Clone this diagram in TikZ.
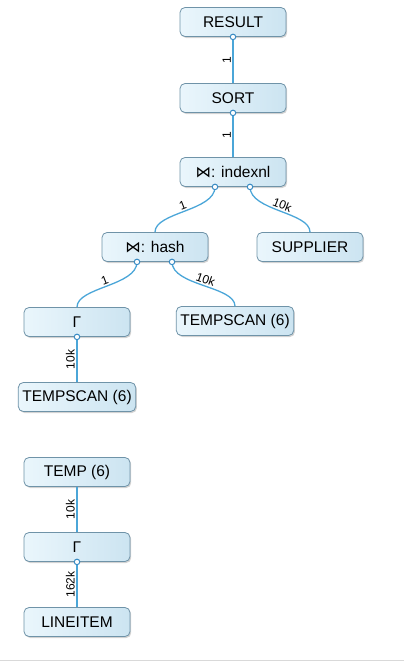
\documentclass[tikz,border=0pt]{standalone}
\usepackage{fontspec}
\setmainfont{Liberation Sans}
\newfontfamily\symfont{DejaVu Sans}
\usetikzlibrary{shadows,positioning}

\definecolor{opleft}{HTML}{EAF6FC}
\definecolor{opright}{HTML}{CCE4F1}
\definecolor{opborder}{HTML}{6F93A8}
\definecolor{linkblue}{HTML}{4BA6D8}
\definecolor{portblue}{HTML}{3A8CC4}

\begin{document}
\begin{tikzpicture}[x=1pt,y=1pt,
    op/.style={draw=opborder,line width=.8pt,rounded corners=5pt,left color=opleft,right color=opright,
        minimum width=106pt,minimum height=29pt,inner xsep=4pt,
        font=\fontsize{15.5}{17}\selectfont,
        drop shadow={shadow xshift=1.2pt,shadow yshift=-1.5pt,opacity=.35}},
    link/.style={draw=linkblue,line width=1.3pt},
    card/.style={font=\fontsize{12}{13}\selectfont,sloped,above,inner sep=1.5pt},
    port/.style={circle,draw=portblue,fill=white,line width=1pt,inner sep=0pt,minimum size=5.5pt}]

    \useasboundingbox (0,0) rectangle (404,-662);
    \draw[black!15,line width=1.5pt] (0,-660.5) -- (404,-660.5);

    % plan tree
    \node[op] (result) at (233,-22) {RESULT};
    \node[op] (sort) at (233,-98) {SORT};
    \node[op] (ixnl) at (233,-172) {{\symfont ⋈}: indexnl};
    \node[op] (hash) at (155,-247) {{\symfont ⋈}: hash};
    \node[op] (supp) at (310,-247) {SUPPLIER};
    \node[op] (grp1) at (77,-322) {Γ};
    \node[op] (tsr) at (235,-321) {TEMPSCAN (6)};
    \node[op] (tsl) at (77,-397) {TEMPSCAN (6)};

    % temp tree
    \node[op] (temp) at (77,-472) {TEMP (6)};
    \node[op] (grp2) at (77,-547) {Γ};
    \node[op] (line) at (77,-622) {LINEITEM};

    \coordinate (ixnl-w) at ([xshift=-18pt]ixnl.south);
    \coordinate (ixnl-e) at ([xshift=17pt]ixnl.south);
    \coordinate (hash-w) at ([xshift=-18pt]hash.south);
    \coordinate (hash-e) at ([xshift=17pt]hash.south);

    \draw[link] (sort.north) -- node[card]{1} (result.south);
    \draw[link] (ixnl.north) -- node[card]{1} (sort.south);
    \draw[link] (hash.north) .. controls +(0,20) and +(0,-24) .. node[card]{1} (ixnl-w);
    \draw[link] (supp.north) .. controls +(0,20) and +(0,-24) .. node[card]{10k} (ixnl-e);
    \draw[link] (grp1.north) .. controls +(0,20) and +(0,-24) .. node[card]{1} (hash-w);
    \draw[link] (tsr.north) .. controls +(0,20) and +(0,-24) .. node[card]{10k} (hash-e);
    \draw[link] (tsl.north) -- node[card]{10k} (grp1.south);
    \draw[link] (grp2.north) -- node[card]{10k} (temp.south);
    \draw[link] (line.north) -- node[card]{162k} (grp2.south);

    \foreach \p in {result.south,sort.south,ixnl-w,ixnl-e,hash-w,hash-e,grp1.south,grp2.south}
        \node[port] at (\p) {};
\end{tikzpicture}
\end{document}
